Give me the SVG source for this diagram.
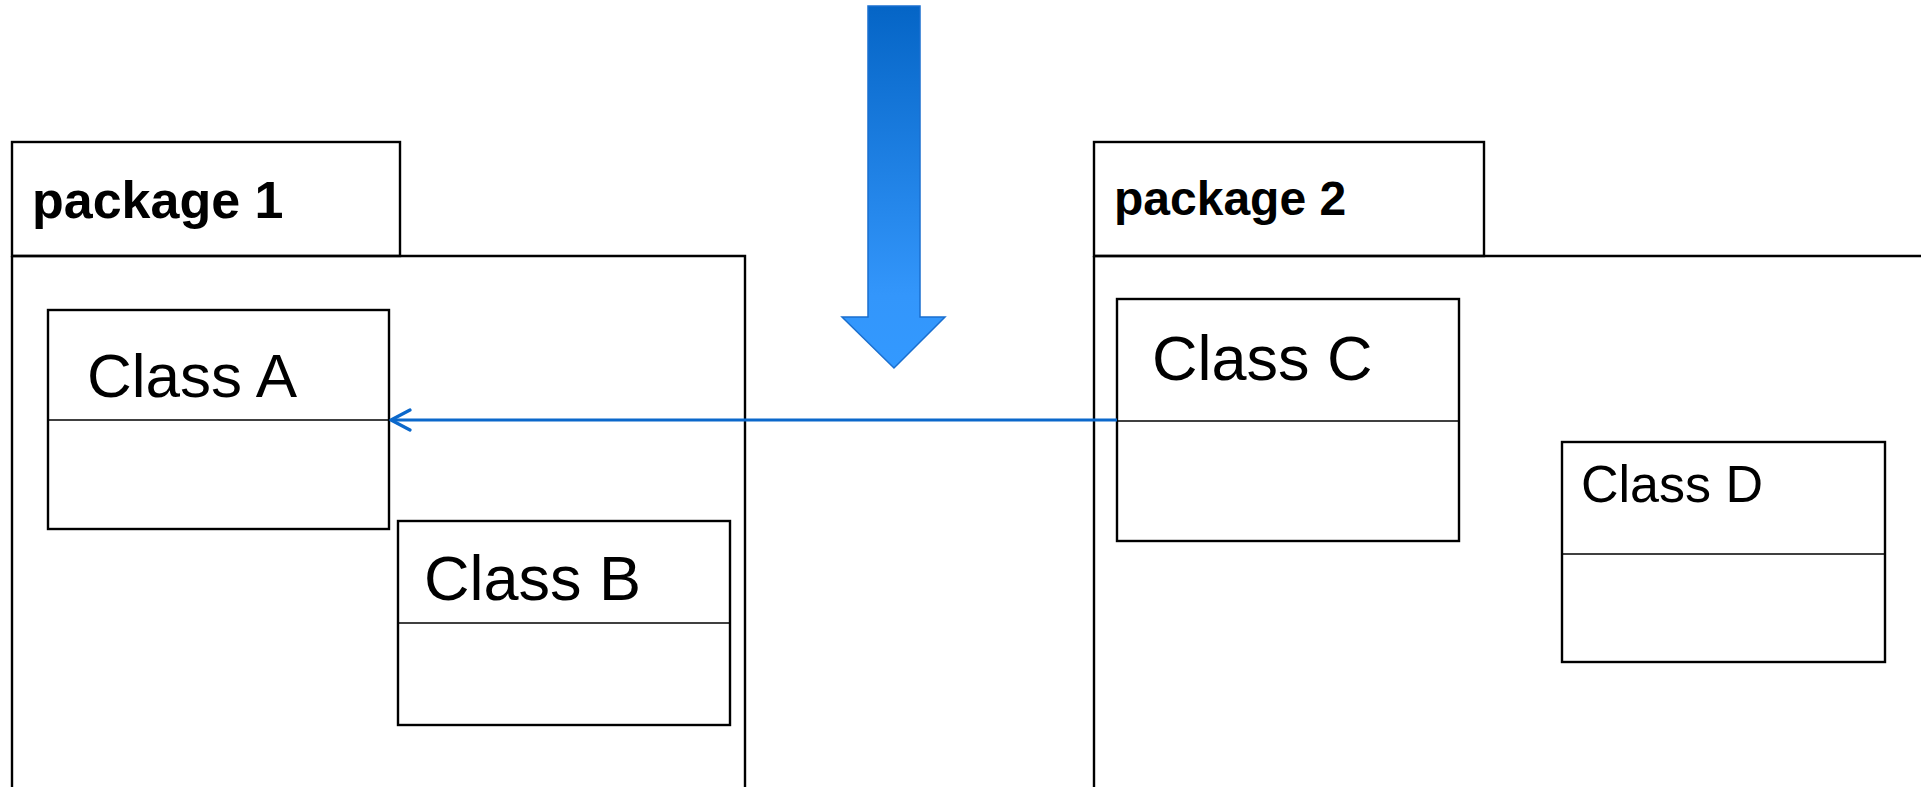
<svg xmlns="http://www.w3.org/2000/svg" width="1921" height="787" viewBox="0 0 1921 787">
  <defs>
    <linearGradient id="bigArrowFill" x1="0" y1="0" x2="0" y2="1">
      <stop offset="0" stop-color="#0565c6"/>
      <stop offset="0.8" stop-color="#3396fb"/>
      <stop offset="1" stop-color="#3399ff"/>
    </linearGradient>
    <marker id="openHead" viewBox="0 0 24 24" markerWidth="24" markerHeight="24" refX="22" refY="12" orient="auto" markerUnits="userSpaceOnUse">
      <path d="M3 2 L22 12 L3 22" fill="none" stroke="#0b68cb" stroke-width="3.2" stroke-linecap="round" stroke-linejoin="round"/>
    </marker>
  </defs>
  <style>
    .frame { fill: none; stroke: #000; stroke-width: 2.4; }
    .box { fill: #fff; stroke: #000; stroke-width: 2.4; }
    .divider { stroke: #000; stroke-width: 1.6; }
    .pkg { font-family: "Liberation Sans", Arial, sans-serif; font-weight: bold; fill: #000; }
    .cls { font-family: "Liberation Sans", Arial, sans-serif; fill: #000; }
    .link { fill: none; stroke: #0b68cb; stroke-width: 3.2; }
  </style>
  <rect width="1921" height="787" fill="#fff"/>

  <!-- package 1 -->
  <g id="package1">
    <rect class="frame" x="12" y="142" width="388" height="114"/>
    <path class="frame" d="M12 256 H745 V790"/>
    <path class="frame" d="M12 256 V790"/>
    <text class="pkg" x="32" y="218" font-size="52">package 1</text>
  </g>

  <!-- package 2 -->
  <g id="package2">
    <rect class="frame" x="1094" y="142" width="390" height="114"/>
    <path class="frame" d="M1094 256 H1925"/>
    <path class="frame" d="M1094 256 V790"/>
    <text class="pkg" x="1114" y="215" font-size="48">package 2</text>
  </g>

  <!-- classes -->
  <g id="classA">
    <rect class="box" x="48" y="310" width="341" height="219"/>
    <line class="divider" x1="48" y1="420" x2="389" y2="420"/>
    <text class="cls" x="87" y="397" font-size="62">Class A</text>
  </g>
  <g id="classB">
    <rect class="box" x="398" y="521" width="332" height="204"/>
    <line class="divider" x1="398" y1="623" x2="730" y2="623"/>
    <text class="cls" x="424" y="600" font-size="63">Class B</text>
  </g>
  <g id="classC">
    <rect class="box" x="1117" y="299" width="342" height="242"/>
    <line class="divider" x1="1117" y1="421" x2="1459" y2="421"/>
    <text class="cls" x="1152" y="380" font-size="63">Class C</text>
  </g>
  <g id="classD">
    <rect class="box" x="1562" y="442" width="323" height="220"/>
    <line class="divider" x1="1562" y1="554" x2="1885" y2="554"/>
    <text class="cls" x="1581" y="502" font-size="52">Class D</text>
  </g>

  <!-- big downward arrow -->
  <g id="bigArrow">
    <path d="M868 6 H920 V317 H945 L894 368 L842 317 H868 Z" fill="url(#bigArrowFill)" stroke="#1a6fcf" stroke-width="1.5" stroke-linejoin="miter"/>
  </g>

  <!-- connectors -->
  <g id="connectors">
    <line class="link" x1="1117" y1="420" x2="391" y2="420" marker-end="url(#openHead)"/>
  </g>
</svg>
